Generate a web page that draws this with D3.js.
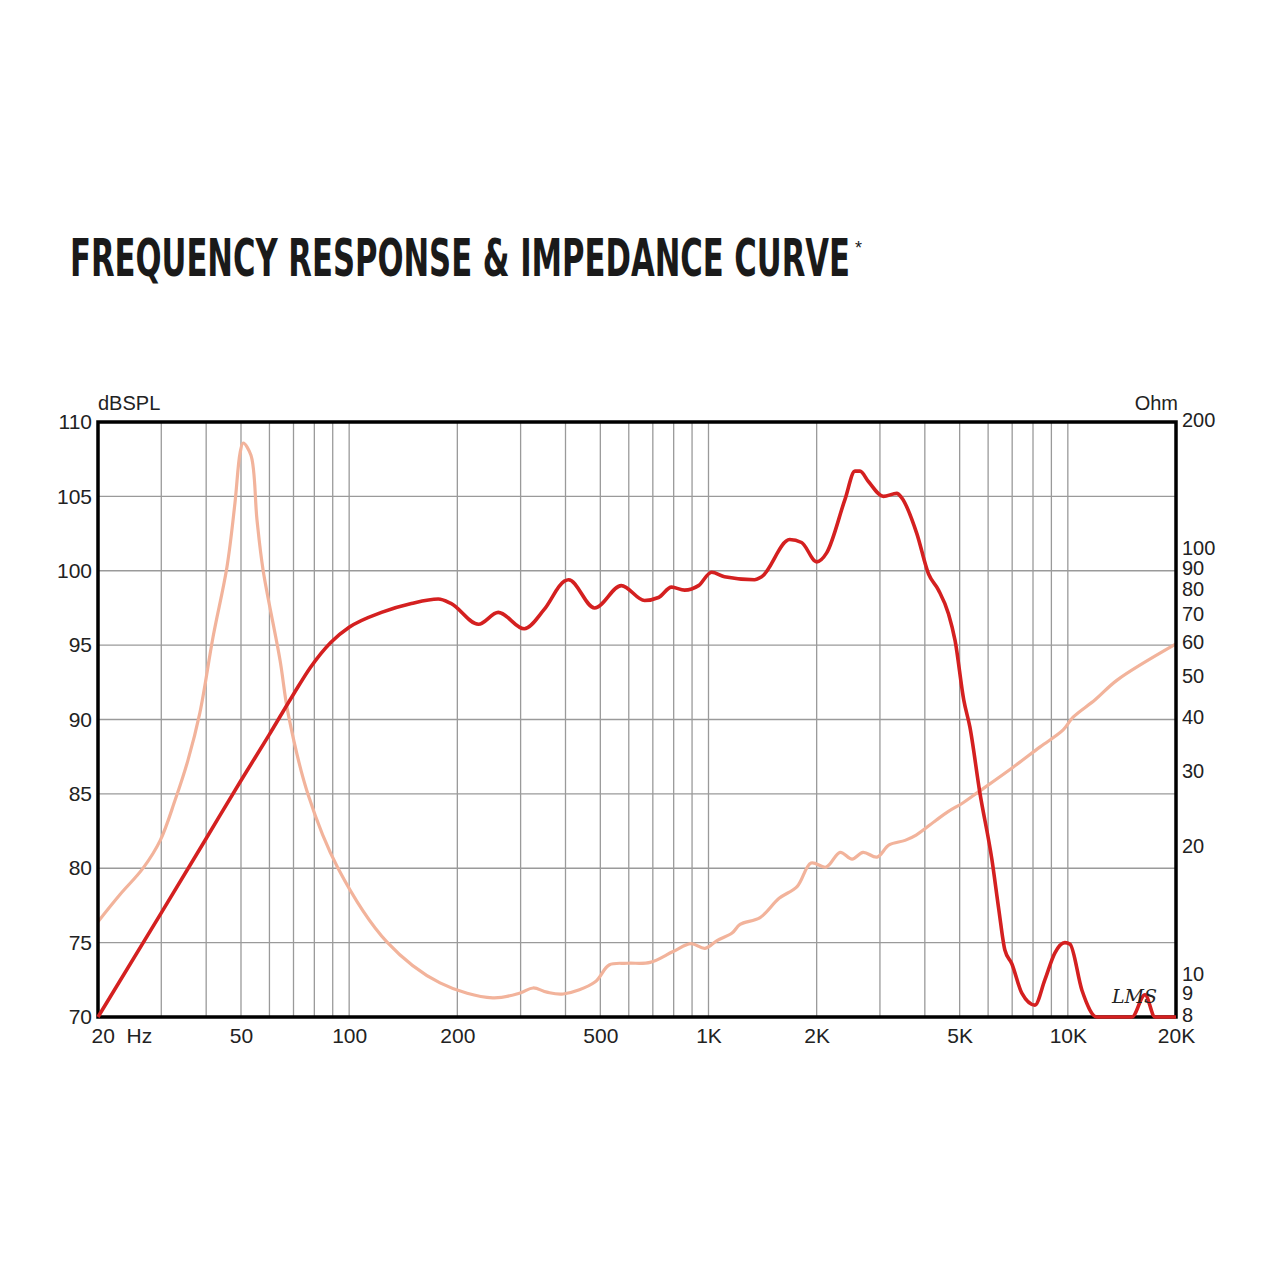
<!DOCTYPE html>
<html>
<head>
<meta charset="utf-8">
<script src="https://cdn.jsdelivr.net/npm/d3@7"></script>
<style>
  body { margin: 0; background: #fff; }
  svg { display: block; }
</style>
</head>
<body>
<div id="chart"></div>
<script>
// SPL curve (Hz, dB)
const splFreq = [20, 30, 40, 50, 60, 70, 78, 89, 100, 123, 149, 177, 192, 229, 260, 307, 349, 397, 408, 482, 572, 664, 726, 789, 858, 938, 1020, 1108, 1343, 1406, 1682, 1816, 2000, 2132, 2398, 2556, 2640, 2786, 3068, 3342, 3450, 3800, 4094, 4366, 4656, 4856, 5134, 5338, 5689, 6146, 6428, 6680, 6980, 7448, 8096, 8630, 9200, 9814, 10136, 10946, 12050, 15080, 16394, 17480, 20000];
const splDb = [70, 77.0, 82.0, 85.9, 89.0, 91.7, 93.5, 95.2, 96.2, 97.2, 97.8, 98.1, 97.8, 96.4, 97.2, 96.1, 97.4, 99.3, 99.4, 97.5, 99.0, 98.0, 98.2, 98.9, 98.7, 99.0, 99.9, 99.6, 99.4, 99.6, 102.1, 101.9, 100.6, 101.2, 104.8, 106.7, 106.7, 106.0, 105.0, 105.2, 104.9, 102.5, 99.8, 98.7, 97.1, 95.3, 91.3, 89.5, 85.1, 80.6, 77.2, 74.5, 73.6, 71.6, 70.8, 72.5, 74.3, 75.0, 74.9, 71.8, 70, 70, 71.5, 70, 70];

// impedance curve (Hz, Ohm)
const impFreq = [20, 23, 26.7, 29.8, 32.8, 35.6, 38.4, 41.8, 45.7, 48.1, 49.7, 50.7, 53.3, 55.4, 57.6, 64.2, 67.6, 76.8, 93.1, 127.5, 179, 251, 299, 325, 355, 394, 483, 529, 594, 688, 797, 894, 978, 1056, 1163, 1224, 1392, 1572, 1764, 1930, 2125, 2324, 2510, 2693, 2945, 3181, 3524, 3783, 4299, 4643, 5112, 5592, 7042, 8374, 9704, 10343, 11910, 13713, 20000];
const impOhm = [13.4, 15.5, 17.9, 20.8, 25.9, 32.1, 41.4, 62.5, 91.3, 129, 169, 178.5, 167, 117.7, 89.8, 55.2, 41.4, 26.7, 17.9, 12.0, 9.62, 8.87, 9.11, 9.36, 9.15, 9.06, 9.67, 10.6, 10.7, 10.75, 11.4, 11.9, 11.6, 12.1, 12.6, 13.2, 13.7, 15.2, 16.2, 18.4, 18.0, 19.5, 18.8, 19.5, 19.0, 20.3, 20.8, 21.4, 23.2, 24.3, 25.5, 26.9, 30.9, 34.5, 37.8, 40.5, 44.5, 49.5, 60.2];

// ticks
const dbTicks = [70, 75, 80, 85, 90, 95, 100, 105, 110];
const ohmTicks = [8, 9, 10, 20, 30, 40, 50, 60, 70, 80, 90, 100, 200];
const freqTicks = [20, 50, 100, 200, 500, 1000, 2000, 5000, 10000, 20000];
const freqLabels = ["20  Hz", "50", "100", "200", "500", "1K", "2K", "5K", "10K", "20K"];
const gridFreqs = [30, 40, 50, 60, 70, 80, 90, 100, 200, 300, 400, 500, 600, 700, 800, 900, 1000, 2000, 3000, 4000, 5000, 6000, 7000, 8000, 9000, 10000];

const width = 1280, height = 1280;
const plotLeft = 98, plotRight = 1176, plotTop = 422, plotBottom = 1017;

const svg = d3.select("#chart").append("svg")
    .attr("width", width)
    .attr("height", height);

svg.append("rect").attr("width", width).attr("height", height).attr("fill", "#fff");

// title
svg.append("text")
    .attr("x", 70)
    .attr("y", 276)
    .attr("textLength", 780)
    .attr("lengthAdjust", "spacingAndGlyphs")
    .style("font-family", "'DejaVu Sans Condensed', 'DejaVu Sans', sans-serif")
    .style("font-weight", "bold")
    .style("font-size", "52px")
    .attr("fill", "#1a1a1a")
    .text("FREQUENCY RESPONSE & IMPEDANCE CURVE");
svg.append("text")
    .attr("x", 855)
    .attr("y", 254)
    .style("font-family", "'Liberation Sans', Arial, sans-serif")
    .style("font-size", "18px")
    .attr("fill", "#1a1a1a")
    .text("*");

// scales
const x = d3.scaleLog().domain([20, 20000]).range([plotLeft, plotRight]);
const yDb = d3.scaleLinear().domain([70, 110]).range([plotBottom, plotTop]);
const yOhm = d3.scaleLog().domain([8, 200]).range([plotBottom, plotTop]);

// grid
const grid = svg.append("g").attr("stroke", "#9a9a9a").attr("stroke-width", 1.3);
grid.selectAll("line.v")
    .data(gridFreqs)
    .enter().append("line")
    .attr("x1", d => x(d)).attr("x2", d => x(d))
    .attr("y1", plotTop).attr("y2", plotBottom);
grid.selectAll("line.h")
    .data(dbTicks.slice(1, -1))
    .enter().append("line")
    .attr("x1", plotLeft).attr("x2", plotRight)
    .attr("y1", d => yDb(d)).attr("y2", d => yDb(d));

// impedance curve
const lineImp = d3.line()
    .x((d, i) => x(impFreq[i]))
    .y(d => yOhm(d))
    .curve(d3.curveCatmullRom.alpha(0.5));
svg.append("path")
    .datum(impOhm)
    .attr("d", lineImp)
    .attr("fill", "none")
    .attr("stroke", "#f2b39b")
    .attr("stroke-width", 3.2)
    .attr("stroke-linejoin", "round");

// frame
svg.append("rect")
    .attr("x", plotLeft).attr("y", plotTop)
    .attr("width", plotRight - plotLeft).attr("height", plotBottom - plotTop)
    .attr("fill", "none")
    .attr("stroke", "#000")
    .attr("stroke-width", 3.5);

// SPL curve
const lineSpl = d3.line()
    .x((d, i) => x(splFreq[i]))
    .y(d => yDb(d))
    .curve(d3.curveMonotoneX);
svg.append("path")
    .datum(splDb)
    .attr("d", lineSpl)
    .attr("fill", "none")
    .attr("stroke", "#d42020")
    .attr("stroke-width", 3.6)
    .attr("stroke-linejoin", "round");

// axes
const fontFam = "'Liberation Sans', Arial, sans-serif";

const leftAxis = svg.append("g")
    .attr("transform", "translate(" + plotLeft + ",0)")
    .call(d3.axisLeft(yDb).tickValues(dbTicks).tickSize(0).tickPadding(6));
const rightAxis = svg.append("g")
    .attr("transform", "translate(" + plotRight + ",-2)")
    .call(d3.axisRight(yOhm).tickValues(ohmTicks).tickFormat(d3.format("d")).tickSize(0).tickPadding(6));
const bottomAxis = svg.append("g")
    .attr("transform", "translate(0," + plotBottom + ")")
    .call(d3.axisBottom(x).tickValues(freqTicks).tickFormat((d, i) => freqLabels[i]).tickSize(0).tickPadding(11));

[leftAxis, rightAxis, bottomAxis].forEach(ax => {
    ax.select(".domain").remove();
    ax.selectAll("text")
        .style("font-family", fontFam)
        .style("font-size", "21px")
        .attr("fill", "#222");
});
rightAxis.selectAll("text").style("font-size", "20px");
bottomAxis.selectAll("text")
    .filter((d, i) => i === 0)
    .attr("text-anchor", "start")
    .attr("x", -7)
    .style("white-space", "pre");

// unit labels
svg.append("text")
    .attr("x", 98).attr("y", 410)
    .style("font-family", fontFam).style("font-size", "20px")
    .attr("fill", "#222")
    .text("dBSPL");
svg.append("text")
    .attr("x", 1178).attr("y", 410)
    .attr("text-anchor", "end")
    .style("font-family", fontFam).style("font-size", "20px")
    .attr("fill", "#222")
    .text("Ohm");

// LMS mark
svg.append("text")
    .attr("x", 1112).attr("y", 1003)
    .style("font-family", "'DejaVu Serif', serif")
    .style("font-style", "italic")
    .style("font-size", "19px")
    .attr("fill", "#222")
    .text("LMS");
</script>
</body>
</html>
